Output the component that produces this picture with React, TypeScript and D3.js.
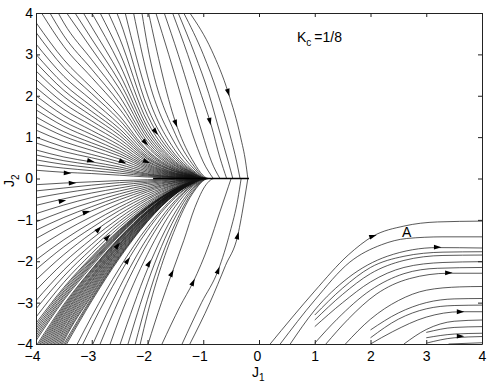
import React, { useEffect, useRef } from "react";
import * as d3 from "d3";

// J1 positions used by the curves that enter through the left edge
const edgeCols = [-4, -3.5, -3, -2.5, -2, -1.5, -1.2, -1.05];

// where the converging curves run along the J2 = 0 line
const mergeEnd = -0.45;

// J2 values of the left-edge curves at edgeCols (upper half)
const upperEdgeJ2 = [
  [3.77, 2.87, 2.19, 1.51, 0.68, 0.23, 0.075, 0],
  [3.53, 2.68, 2.05, 1.41, 0.64, 0.21, 0.07, 0],
  [3.25, 2.47, 1.89, 1.3, 0.59, 0.2, 0.065, 0],
  [3.0, 2.28, 1.74, 1.2, 0.54, 0.18, 0.06, 0],
  [2.8, 2.13, 1.62, 1.12, 0.5, 0.17, 0.056, 0],
  [2.6, 1.98, 1.51, 1.04, 0.47, 0.16, 0.052, 0],
  [2.4, 1.82, 1.39, 0.96, 0.43, 0.14, 0.048, 0],
  [2.2, 1.67, 1.28, 0.88, 0.4, 0.13, 0.044, 0],
  [2.0, 1.52, 1.16, 0.8, 0.36, 0.12, 0.04, 0],
  [1.82, 1.38, 1.06, 0.73, 0.33, 0.11, 0.036, 0],
  [1.66, 1.26, 0.96, 0.66, 0.3, 0.1, 0.033, 0],
  [1.49, 1.13, 0.86, 0.6, 0.27, 0.09, 0.03, 0],
  [1.34, 1.02, 0.78, 0.54, 0.24, 0.08, 0.027, 0],
  [1.17, 0.89, 0.68, 0.47, 0.21, 0.07, 0.023, 0],
  [1.0, 0.76, 0.58, 0.4, 0.18, 0.06, 0.02, 0],
  [0.86, 0.65, 0.5, 0.34, 0.15, 0.05, 0.017, 0],
  [0.69, 0.52, 0.4, 0.28, 0.12, 0.04, 0.014, 0],
  [0.57, 0.43, 0.33, 0.23, 0.1, 0.034, 0.011, 0],
  [0.45, 0.34, 0.26, 0.18, 0.08, 0.027, 0.009, 0],
  [0.33, 0.25, 0.19, 0.13, 0.06, 0.02, 0.007, 0],
  [0.2, 0.15, 0.12, 0.08, 0.036, 0.012, 0.004, 0],
];

// J2 values of the left-edge curves at edgeCols (lower half)
const lowerEdgeJ2 = [
  [-0.15, -0.11, -0.08, -0.05, -0.03, -0.01, -0.003, 0],
  [-0.3, -0.23, -0.16, -0.1, -0.06, -0.02, -0.007, 0],
  [-0.47, -0.35, -0.25, -0.16, -0.09, -0.03, -0.01, 0],
  [-0.65, -0.49, -0.35, -0.23, -0.12, -0.05, -0.014, 0],
  [-0.85, -0.64, -0.46, -0.3, -0.16, -0.06, -0.019, 0],
  [-1.05, -0.79, -0.57, -0.37, -0.2, -0.07, -0.023, 0],
  [-1.25, -0.94, -0.68, -0.44, -0.24, -0.09, -0.028, 0],
  [-1.45, -1.09, -0.78, -0.51, -0.28, -0.1, -0.032, 0],
  [-1.7, -1.28, -0.92, -0.6, -0.32, -0.12, -0.037, 0],
  [-1.97, -1.48, -1.06, -0.69, -0.37, -0.14, -0.043, 0],
  [-2.2, -1.65, -1.19, -0.77, -0.42, -0.15, -0.048, 0],
  [-2.45, -1.84, -1.32, -0.86, -0.47, -0.17, -0.054, 0],
  [-2.7, -2.03, -1.46, -0.95, -0.51, -0.19, -0.059, 0],
  [-2.95, -2.21, -1.59, -1.03, -0.56, -0.21, -0.065, 0],
  [-3.15, -2.36, -1.7, -1.1, -0.6, -0.22, -0.069, 0],
  [-3.35, -2.51, -1.81, -1.17, -0.64, -0.23, -0.074, 0],
  [-3.5, -2.63, -1.89, -1.23, -0.67, -0.25, -0.077, 0],
  [-3.56, -2.67, -1.92, -1.25, -0.68, -0.25, -0.078, 0],
  [-3.62, -2.72, -1.95, -1.27, -0.69, -0.25, -0.08, 0],
  [-3.68, -2.76, -1.99, -1.29, -0.7, -0.26, -0.081, 0],
  [-3.74, -2.81, -2.02, -1.31, -0.71, -0.26, -0.082, 0],
  [-3.8, -2.85, -2.05, -1.33, -0.72, -0.27, -0.084, 0],
  [-3.86, -2.9, -2.08, -1.35, -0.73, -0.27, -0.085, 0],
  [-3.92, -2.94, -2.12, -1.37, -0.74, -0.27, -0.086, 0],
];

// curves entering through the top edge (J2 = 4)
const upperTopCurves = [
  [[-3.9, 4], [-3.5, 3.19], [-3, 2.44], [-2.5, 1.68], [-2, 0.76], [-1.5, 0.25], [-1.2, 0.084], [-1.04, 0]],
  [[-3.75, 4], [-3.5, 3.45], [-3, 2.64], [-2.5, 1.82], [-2, 0.82], [-1.5, 0.27], [-1.2, 0.09], [-1.03, 0]],
  [[-3.6, 4], [-3.5, 3.76], [-3, 2.87], [-2.5, 1.98], [-2, 0.89], [-1.5, 0.3], [-1.2, 0.1], [-1.02, 0]],
  [[-3.45, 4], [-3, 3.13], [-2.5, 2.16], [-2, 0.97], [-1.5, 0.32], [-1.2, 0.11], [-1.01, 0]],
  [[-3.3, 4], [-3, 3.37], [-2.5, 2.33], [-2, 1.05], [-1.5, 0.35], [-1.2, 0.12], [-1.0, 0]],
  [[-3.15, 4], [-3, 3.66], [-2.5, 2.52], [-2, 1.14], [-1.5, 0.38], [-1.2, 0.13], [-0.99, 0]],
  [[-3.0, 4], [-2.5, 2.76], [-2, 1.24], [-1.5, 0.41], [-1.2, 0.14], [-0.98, 0]],
  [[-2.85, 4], [-2.5, 3.04], [-2, 1.37], [-1.5, 0.46], [-1.2, 0.15], [-0.97, 0]],
  [[-2.7, 4], [-2.5, 3.39], [-2, 1.53], [-1.5, 0.51], [-1.2, 0.17], [-0.96, 0]],
  [[-2.55, 4], [-2.5, 3.83], [-2, 1.72], [-1.5, 0.57], [-1.2, 0.19], [-0.95, 0]],
  [[-2.4, 4], [-2, 2.02], [-1.5, 0.67], [-1.2, 0.22], [-0.94, 0]],
  [[-2.25, 4], [-2, 2.48], [-1.5, 0.83], [-1.2, 0.28], [-0.93, 0]],
  [[-2.1, 4], [-2, 3.21], [-1.5, 1.07], [-1.2, 0.36], [-0.92, 0]],
  [[-1.98, 4], [-1.5, 1.37], [-1.2, 0.46], [-0.9, 0]],
];

// bowed curves on the right of the upper fan
const upperArcs = [
  [[-1.85, 4], [-1.62, 3], [-1.4, 2], [-1.2, 1.1], [-1.0, 0.4], [-0.82, 0]],
  [[-1.7, 4], [-1.45, 3], [-1.22, 2], [-1.02, 1.1], [-0.85, 0.4], [-0.7, 0]],
  [[-1.55, 4], [-1.28, 3], [-1.03, 2], [-0.86, 1.3], [-0.7, 0.5], [-0.58, 0]],
  [[-1.45, 4], [-1.15, 3], [-0.9, 2.05], [-0.7, 1.1], [-0.55, 0.4], [-0.47, 0]],
  [[-1.35, 4], [-1.0, 3], [-0.74, 2.05], [-0.52, 1.05], [-0.4, 0.4], [-0.34, 0]],
  [[-1.24, 4], [-0.85, 3.1], [-0.55, 2.07], [-0.33, 1.0], [-0.24, 0.4], [-0.2, 0]],
];

// curves entering through the bottom edge (J2 = -4), left part
const lowerBottomCurves = [
  [[-3.975, -4], [-3.5, -3.04], [-3, -2.19], [-2.5, -1.42], [-2, -0.77], [-1.5, -0.28], [-1.2, -0.089], [-1.04, 0]],
  [[-3.95, -4], [-3.5, -3.08], [-3, -2.21], [-2.5, -1.44], [-2, -0.78], [-1.5, -0.29], [-1.2, -0.09], [-1.04, 0]],
  [[-3.925, -4], [-3.5, -3.12], [-3, -2.24], [-2.5, -1.45], [-2, -0.79], [-1.5, -0.29], [-1.2, -0.091], [-1.04, 0]],
  [[-3.9, -4], [-3.5, -3.16], [-3, -2.27], [-2.5, -1.47], [-2, -0.8], [-1.5, -0.29], [-1.2, -0.093], [-1.04, 0]],
  [[-3.875, -4], [-3.5, -3.2], [-3, -2.3], [-2.5, -1.49], [-2, -0.81], [-1.5, -0.3], [-1.2, -0.094], [-1.03, 0]],
  [[-3.85, -4], [-3.5, -3.24], [-3, -2.34], [-2.5, -1.51], [-2, -0.82], [-1.5, -0.3], [-1.2, -0.095], [-1.03, 0]],
  [[-3.825, -4], [-3.5, -3.29], [-3, -2.37], [-2.5, -1.53], [-2, -0.83], [-1.5, -0.31], [-1.2, -0.096], [-1.03, 0]],
  [[-3.8, -4], [-3.5, -3.33], [-3, -2.4], [-2.5, -1.56], [-2, -0.84], [-1.5, -0.31], [-1.2, -0.098], [-1.03, 0]],
  [[-3.775, -4], [-3.5, -3.38], [-3, -2.43], [-2.5, -1.58], [-2, -0.86], [-1.5, -0.32], [-1.2, -0.099], [-1.02, 0]],
  [[-3.75, -4], [-3.5, -3.43], [-3, -2.47], [-2.5, -1.6], [-2, -0.87], [-1.5, -0.32], [-1.2, -0.1], [-1.02, 0]],
  [[-3.725, -4], [-3.5, -3.48], [-3, -2.5], [-2.5, -1.62], [-2, -0.88], [-1.5, -0.32], [-1.2, -0.1], [-1.02, 0]],
  [[-3.7, -4], [-3.5, -3.53], [-3, -2.54], [-2.5, -1.65], [-2, -0.89], [-1.5, -0.33], [-1.2, -0.1], [-1.02, 0]],
  [[-3.675, -4], [-3.5, -3.58], [-3, -2.58], [-2.5, -1.67], [-2, -0.91], [-1.5, -0.33], [-1.2, -0.105], [-1.01, 0]],
  [[-3.65, -4], [-3.5, -3.64], [-3, -2.62], [-2.5, -1.7], [-2, -0.92], [-1.5, -0.34], [-1.2, -0.11], [-1.01, 0]],
  [[-3.625, -4], [-3.5, -3.69], [-3, -2.66], [-2.5, -1.72], [-2, -0.94], [-1.5, -0.34], [-1.2, -0.108], [-1.01, 0]],
  [[-3.6, -4], [-3.5, -3.75], [-3, -2.7], [-2.5, -1.75], [-2, -0.95], [-1.5, -0.35], [-1.2, -0.11], [-1.01, 0]],
  [[-3.575, -4], [-3.5, -3.81], [-3, -2.74], [-2.5, -1.78], [-2, -0.97], [-1.5, -0.36], [-1.2, -0.11], [-1.0, 0]],
  [[-3.55, -4], [-3.5, -3.87], [-3, -2.79], [-2.5, -1.81], [-2, -0.98], [-1.5, -0.36], [-1.2, -0.11], [-1.0, 0]],
  [[-3.525, -4], [-3.5, -3.93], [-3, -2.83], [-2.5, -1.84], [-2, -1.0], [-1.5, -0.37], [-1.2, -0.115], [-1.0, 0]],
  [[-3.5, -4], [-3, -2.88], [-2.5, -1.87], [-2, -1.01], [-1.5, -0.37], [-1.2, -0.12], [-1.0, 0]],
  [[-3.475, -4], [-3, -2.92], [-2.5, -1.89], [-2, -1.03], [-1.5, -0.38], [-1.2, -0.12], [-0.99, 0]],
  [[-3.45, -4], [-3, -2.96], [-2.5, -1.92], [-2, -1.04], [-1.5, -0.38], [-1.2, -0.12], [-0.99, 0]],
  [[-3.26, -4], [-3, -3.33], [-2.5, -2.16], [-2, -1.17], [-1.5, -0.43], [-1.2, -0.14], [-0.98, 0]],
  [[-3.16, -4], [-3, -3.56], [-2.5, -2.31], [-2, -1.25], [-1.5, -0.46], [-1.2, -0.145], [-0.97, 0]],
  [[-2.98, -4], [-2.5, -2.63], [-2, -1.43], [-1.5, -0.53], [-1.2, -0.165], [-0.96, 0]],
  [[-2.85, -4], [-2.5, -2.9], [-2, -1.57], [-1.5, -0.58], [-1.2, -0.18], [-0.95, 0]],
  [[-2.67, -4], [-2.5, -3.37], [-2, -1.83], [-1.5, -0.67], [-1.2, -0.21], [-0.94, 0]],
  [[-2.49, -4], [-2, -2.19], [-1.5, -0.81], [-1.2, -0.25], [-0.93, 0]],
  [[-2.35, -4], [-2, -2.52], [-1.5, -0.93], [-1.2, -0.29], [-0.92, 0]],
  [[-2.22, -4], [-2, -2.92], [-1.5, -1.08], [-1.2, -0.34], [-0.91, 0]],
  [[-2.13, -4], [-2, -3.27], [-1.5, -1.2], [-1.2, -0.38], [-0.9, 0]],
  [[-1.99, -4], [-1.75, -3.0], [-1.56, -2.28], [-1.35, -1.5], [-1.15, -0.7], [-0.95, -0.15], [-0.8, 0]],
];

const lowerArcs = [
  [[-1.74, -4], [-1.42, -3.1], [-1.18, -2.5], [-0.9, -1.6], [-0.7, -0.8], [-0.55, -0.2], [-0.5, 0]],
  [[-1.38, -4], [-1.03, -3.0], [-0.73, -2.21], [-0.52, -1.3], [-0.38, -0.5], [-0.32, 0]],
  [[-1.24, -4], [-0.88, -3.0], [-0.6, -2.1], [-0.38, -1.37], [-0.26, -0.5], [-0.2, 0]],
];

// the flow on the J1 > 0 side, bottom right
const rightCurves = [
  [[0.2, -4], [0.6, -3.35], [1.0, -2.72], [1.6, -1.85], [2.05, -1.39], [2.6, -1.15], [3.2, -1.05], [4, -1.03]],
  [[0.38, -4], [1.0, -2.94], [1.63, -2.02], [2.2, -1.6], [2.65, -1.45], [3.3, -1.41], [4, -1.41]],
  [[0.56, -4], [1.0, -3.18], [1.6, -2.4], [2.3, -1.88], [3.2, -1.67], [4, -1.68]],
  [[1.0, -3.3], [1.5, -2.65], [2.0, -2.15], [2.6, -1.88], [3.3, -1.78], [4, -1.77]],
  [[1.0, -3.42], [1.5, -2.8], [2.0, -2.3], [2.6, -1.98], [3.3, -1.86], [4, -1.85]],
  [[1.0, -3.58], [1.5, -3.0], [2.0, -2.5], [2.6, -2.15], [3.3, -2.03], [4, -2.01]],
  [[1.0, -3.98], [1.4, -3.4], [2.0, -2.7], [2.6, -2.3], [3.2, -2.17], [4, -2.15]],
  [[1.2, -4], [1.6, -3.4], [2.1, -2.8], [2.7, -2.42], [3.4, -2.29], [4, -2.29]],
  [[1.55, -4], [2.0, -3.4], [2.5, -2.95], [3.0, -2.7], [3.6, -2.62], [4, -2.61]],
  [[2.0, -3.66], [2.5, -3.25], [3.0, -3.0], [3.5, -2.91], [4, -2.9]],
  [[2.0, -3.85], [2.5, -3.4], [3.0, -3.15], [3.5, -3.07], [4, -3.06]],
  [[2.0, -4], [2.4, -3.7], [3.0, -3.35], [3.62, -3.22], [4, -3.22]],
  [[2.6, -4], [3.0, -3.65], [3.5, -3.45], [4, -3.42]],
  [[3.0, -3.72], [3.5, -3.6], [4, -3.58]],
  [[3.0, -3.85], [3.5, -3.76], [4, -3.74]],
  [[3.0, -3.98], [3.5, -3.85], [4, -3.82]],
  [[3.4, -4], [4, -3.97]],
];

const fixedLine = [[-1.9, 0], [-0.18, 0]];

// arrow heads: [J1, J2, dJ1, dJ2]
const arrows = [
  [-3.43, 0.13, 1, -0.06],
  [-3.01, 0.42, 1, -0.3],
  [-2.44, 0.4, 1, -0.5],
  [-2.01, 0.4, 1, -0.6],
  [-2.03, 0.86, 1, -1.35],
  [-1.85, 1.12, 1, -1.8],
  [-1.49, 1.32, 1, -3.7],
  [-0.88, 1.37, 1, -6],
  [-0.55, 2.07, 1, -4.5],
  [-3.34, -0.11, 1, 0.05],
  [-3.52, -0.54, 1, 0.25],
  [-3.09, -0.81, 1, 0.4],
  [-2.87, -1.22, 1, 1.3],
  [-2.71, -1.41, 1, 1.5],
  [-2.53, -1.61, 1, 1.7],
  [-2.35, -1.97, 1, 1.9],
  [-1.97, -2.04, 1, 2.5],
  [-1.56, -2.28, 1, 2.7],
  [-1.18, -2.5, 1, 2.8],
  [-0.73, -2.21, 1, 3.5],
  [-0.38, -1.37, 1, 5],
  [2.05, -1.39, 1, 0.45],
  [3.21, -1.66, 1, 0],
  [3.41, -2.28, 1, 0],
  [3.62, -3.22, 1, 0],
  [3.62, -3.81, 1, 0],
];

const ticks = [-4, -3, -2, -1, 0, 1, 2, 3, 4];

const FONT = "'Liberation Sans', Arial, Helvetica, sans-serif";

const App = () => {
  const svgRef = useRef<SVGSVGElement>(null);

  useEffect(() => {
    const width = 491;
    const height = 382;
    const left = 36, right = 482, top = 13, bottom = 344;

    const svg = d3.select(svgRef.current).attr("width", width).attr("height", height);
    svg.selectAll("*").remove();

    svg.append("rect").attr("width", width).attr("height", height).attr("fill", "#fff");

    const x = d3.scaleLinear().domain([-4, 4]).range([left, right]);
    const y = d3.scaleLinear().domain([-4, 4]).range([bottom, top]);

    svg.append("defs").append("clipPath").attr("id", "plot-clip")
      .append("rect").attr("x", left).attr("y", top)
      .attr("width", right - left).attr("height", bottom - top);

    const line = d3.line<number[]>()
      .x((d) => x(d[0]))
      .y((d) => y(d[1]))
      .curve(d3.curveMonotoneX);

    // curves that fold onto J2 = 0 keep running along it
    const withTail = (pts: number[][]) => [...pts, [mergeEnd, 0]];

    const curves = [
      ...upperEdgeJ2.map((row) => withTail(row.map((v, i) => [edgeCols[i], v]))),
      ...lowerEdgeJ2.map((row) => withTail(row.map((v, i) => [edgeCols[i], v]))),
      ...upperTopCurves.map(withTail),
      ...upperArcs,
      ...lowerBottomCurves.map(withTail),
      ...lowerArcs,
      ...rightCurves,
    ];

    const g = svg.append("g").attr("clip-path", "url(#plot-clip)");

    g.selectAll(".flow")
      .data(curves)
      .join("path")
      .attr("class", "flow")
      .attr("d", (d) => line(d))
      .attr("fill", "none")
      .attr("stroke", "#111")
      .attr("stroke-width", 0.7);

    g.append("path")
      .attr("d", line(fixedLine))
      .attr("fill", "none")
      .attr("stroke", "#000")
      .attr("stroke-width", 1.3);

    // arrow heads, oriented along the flow in screen space
    g.selectAll(".arrow")
      .data(arrows)
      .join("path")
      .attr("class", "arrow")
      .attr("d", "M3.5,0 L-4,-2.4 L-4,2.4 Z")
      .attr("fill", "#000")
      .attr("transform", (d) => {
        const sx = x(d[0] + d[2] * 0.01) - x(d[0]);
        const sy = y(d[1] + d[3] * 0.01) - y(d[1]);
        const ang = (Math.atan2(sy, sx) * 180) / Math.PI;
        return `translate(${x(d[0])},${y(d[1])}) rotate(${ang})`;
      });

    // axes: MATLAB style box with inward ticks
    const fmt = d3.format("");
    const axisColor = "#222";

    const gb = svg.append("g").attr("transform", `translate(0,${bottom})`)
      .call(d3.axisBottom(x).tickValues(ticks).tickSize(-4).tickSizeOuter(0).tickPadding(7).tickFormat((d) => fmt(d as number)));
    gb.selectAll("text").attr("dx", (d: any) => (d < 0 ? -4 : d === 0 ? -2 : 0));

    const gl = svg.append("g").attr("transform", `translate(${left},0)`)
      .call(d3.axisLeft(y).tickValues(ticks).tickSize(-4).tickSizeOuter(0).tickPadding(3).tickFormat((d) => fmt(d as number)));

    const gt = svg.append("g").attr("transform", `translate(0,${top})`)
      .call(d3.axisTop(x).tickValues(ticks).tickSize(-4).tickSizeOuter(0).tickFormat(() => ""));

    const gr = svg.append("g").attr("transform", `translate(${right},0)`)
      .call(d3.axisRight(y).tickValues(ticks).tickSize(-4).tickSizeOuter(0).tickFormat(() => ""));

    [gb, gl, gt, gr].forEach((a) => {
      a.selectAll("path, line").attr("stroke", axisColor).attr("stroke-width", 1);
      a.selectAll("text").attr("fill", "#000").style("font-family", FONT).style("font-size", "14px");
    });

    // axis labels
    const xl = svg.append("text").attr("x", 252).attr("y", 377)
      .style("font-family", FONT).style("font-size", "14px").attr("fill", "#000");
    xl.append("tspan").text("J");
    xl.append("tspan").attr("dy", 4).style("font-size", "10px").text("1");

    const yl = svg.append("text").attr("transform", "translate(14,187) rotate(-90)")
      .style("font-family", FONT).style("font-size", "14px").attr("fill", "#000");
    yl.append("tspan").text("J");
    yl.append("tspan").attr("dy", 5).style("font-size", "10px").text("2");

    const kc = svg.append("text").attr("x", 297).attr("y", 42)
      .style("font-family", FONT).style("font-size", "14px").attr("fill", "#000");
    kc.append("tspan").text("K");
    kc.append("tspan").attr("dy", 4).style("font-size", "10px").text("c");
    kc.append("tspan").attr("dy", -4).attr("dx", 3).text("=1/8");

    svg.append("text").attr("x", x(2.65)).attr("y", y(-1.3) + 5)
      .attr("text-anchor", "middle")
      .style("font-family", FONT).style("font-size", "14px").attr("fill", "#000")
      .text("A");
  }, []);

  return (
    <div style={{ position: "absolute", left: 0, top: 0 }}>
      <svg ref={svgRef}></svg>
    </div>
  );
};

export default App;
